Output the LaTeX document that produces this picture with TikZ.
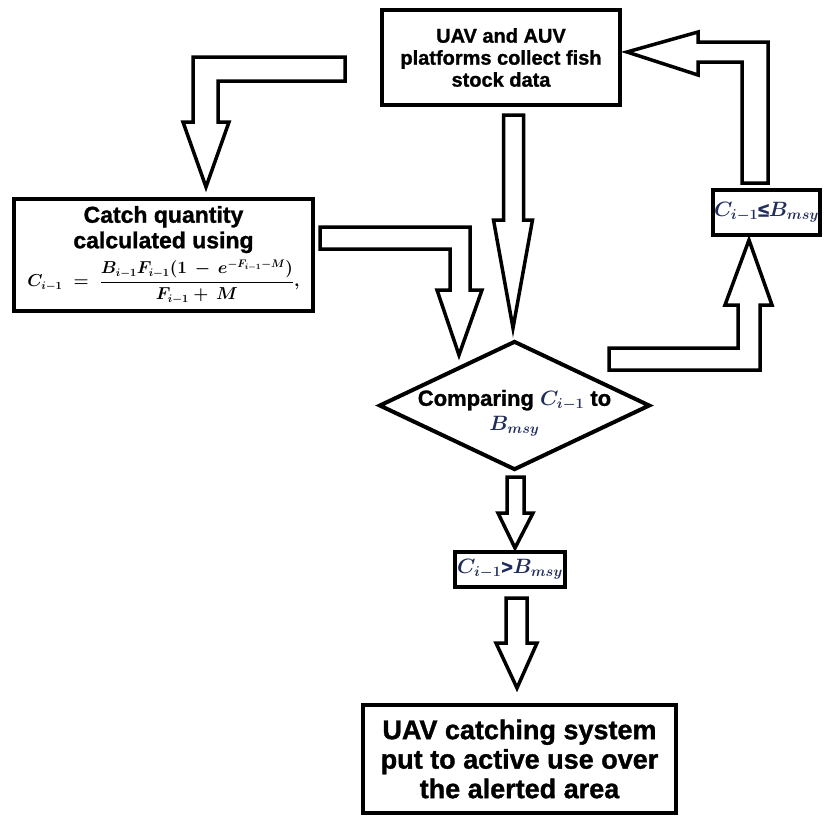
\documentclass[tikz,border=0pt]{standalone}
\usepackage{fontspec}
\setmainfont{Liberation Sans}[BoldFeatures={FakeBold=1.2}]
\usepackage{amsmath}
\usepackage{tikz}
\usetikzlibrary{shapes.geometric, calc}

\definecolor{mathnavy}{RGB}{32,44,92}

\begin{document}
\begin{tikzpicture}[
	x=1pt, y=1pt,
	box/.style={draw, line width=4pt, align=center, inner sep=0pt, font=\bfseries\boldmath},
	cond/.style={draw, line width=4pt, diamond, shape aspect=2.1, inner sep=-14pt, font=\bfseries\boldmath},
	blk/.style={draw, line width=3.5pt, fill=white, line join=miter}
]

\useasboundingbox (0,0) rectangle (825,-817);

\node[box, minimum width=238, minimum height=95,
	font=\fontsize{20}{22}\selectfont\bfseries] (collect) at (501,-57.5)
	{UAV and AUV\\platforms collect fish\\stock data};
\node[box, minimum width=299, minimum height=112,
	font=\fontsize{23}{25.5}\selectfont\bfseries\boldmath] (catch) at (163.5,-255)
	{Catch quantity\\calculated using\\[6pt]
	{\fontsize{16}{18}\selectfont$C_{i-1}\;=\;\dfrac{B_{i-1}F_{i-1}(1\,-\,e^{-F_{i-1}-M})}{F_{i-1}+\,M},$}};
\node[cond, minimum width=271, minimum height=129,
	font=\fontsize{22}{25}\selectfont\bfseries\boldmath] (cmp) at (514.5,-405.5)
	{\raisebox{-13pt}[0pt][0pt]{\begin{tabular}{@{}c@{}}Comparing \textcolor{mathnavy}{$C_{i-1}$} to\\
	\textcolor{mathnavy}{$B_{msy}$}\end{tabular}}};
\node[box, minimum width=110, minimum height=35,
	font=\fontsize{19.5}{21}\selectfont\bfseries\boldmath, text=mathnavy] (gt) at (510,-569.5)
	{$C_{i-1}$>$B_{msy}$};
\node[box, minimum width=107, minimum height=45,
	font=\fontsize{19.5}{21}\selectfont\bfseries\boldmath, text=mathnavy] (le) at (766.5,-212.5)
	{$C_{i-1}$≤$B_{msy}$};
\node[box, minimum width=313, minimum height=108,
	font=\fontsize{27}{29.5}\selectfont\bfseries] (act) at (519.5,-759)
	{UAV catching system\\put to active use over\\the alerted area};

% block arrows
\draw[blk] ($(collect.west)+(-35,0.5)$) -- ++(-152,0) -- ++(0,-65) -- ++(-10,0)
	-- ++(23,-65) -- ++(23,65) -- ++(-11,0) -- ++(0,41) -- ++(127,0) -- cycle;
\draw[blk] ($(cmp.north |- collect.south)+(-11,-8)$) -- ++(20,0) -- ++(0,-105) -- ++(9,0)
	-- ++(-19.5,-108) -- ++(-19.5,108) -- ++(10,0) -- cycle;
\draw[blk] ($(catch.east)+(5,28)$) -- ++(150,0) -- ++(0,-63) -- ++(12,0)
	-- ++(-23,-65) -- ++(-22,65) -- ++(13,0) -- ++(0,41) -- ++(-130,0) -- cycle;
\draw[blk] ($(cmp.east)+(-43,35.5)$) -- ++(151,0) -- ++(0,65) -- ++(12,0)
	-- ++(-23,65) -- ++(-24,-65) -- ++(13,0) -- ++(0,-43) -- ++(-129,0) -- cycle;
\draw[blk] ($(le.north)+(-24.5,5)$) -- ++(26,0) -- ++(0,141) -- ++(-70,0) -- ++(0,10)
	-- ++(-71,-20) -- ++(71,-23) -- ++(0,13) -- ++(44,0) -- cycle;
\draw[blk] ($(cmp.south)+(-7.5,-5)$) -- ++(17,0) -- ++(0,-36) -- ++(9,0)
	-- ++(-18,-35) -- ++(-17,35) -- ++(9,0) -- cycle;
\draw[blk] ($(gt.south)+(-4,-9)$) -- ++(21,0) -- ++(0,-45) -- ++(10,0)
	-- ++(-20,-45) -- ++(-21,45) -- ++(10,0) -- cycle;

\end{tikzpicture}
\end{document}
